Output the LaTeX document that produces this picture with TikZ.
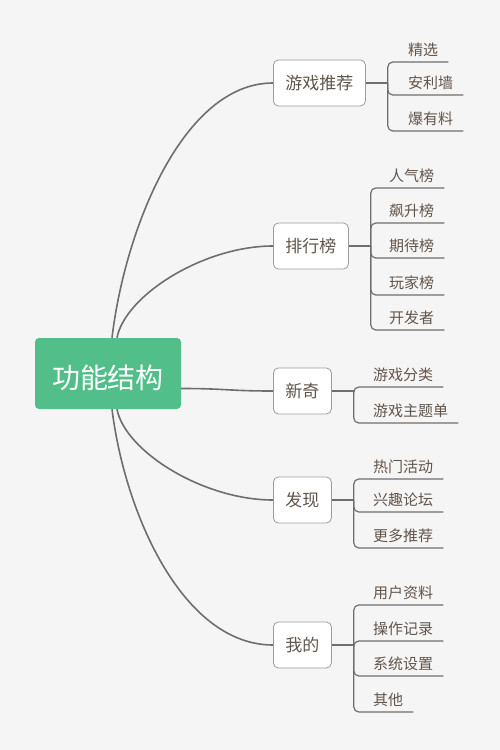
\documentclass[tikz,border=0pt]{standalone}
\usepackage{fontspec}
\setmainfont{Noto Sans CJK SC}
\usepackage{xcolor}
\usetikzlibrary{positioning}

\definecolor{rootgreen}{HTML}{52BE89}
\definecolor{linegray}{HTML}{6E6E6E}
\definecolor{boxgray}{HTML}{9C9C9C}
\definecolor{textbrown}{HTML}{62554B}
\definecolor{paper}{HTML}{F5F5F5}

\tikzset{
  root/.style={fill=rootgreen, rounded corners=4pt, text=white,
    font=\fontsize{28}{32}\selectfont, text height=30pt, text depth=0pt,
    minimum width=146pt, minimum height=71pt},
  topic/.style={draw=boxgray, fill=white, rounded corners=5pt, line width=0.8pt,
    text=textbrown, font=\fontsize{17}{20}\selectfont, inner xsep=12pt,
    minimum height=46pt, anchor=west},
  leaf/.style={anchor=south west, inner xsep=10pt, inner ysep=6pt, text depth=0pt,
    text=textbrown, font=\fontsize{15}{18}\selectfont},
  branch/.style={draw=linegray, line width=1.6pt},
  twig/.style={draw=linegray, line width=1.2pt, rounded corners=5pt}
}

\begin{document}
\begin{tikzpicture}[x=1pt, y=-1pt]
\fill[paper] (0,0) rectangle (500,750);
\useasboundingbox (0,0) rectangle (500,750);

% centre
\node[root] (root) at (108,373.5) {功能结构};

% main topics
\node[topic] (t1) at (273,83) {游戏推荐};
\node[topic] (t2) at (273,246) {排行榜};
\node[topic] (t3) at (273,391) {新奇};
\node[topic] (t4) at (273,500) {发现};
\node[topic] (t5) at (273,645) {我的};

% curves from the centre
\draw[branch] ([xshift=4pt]root.north) .. controls +(13,-109) and +(-90,0) .. (t1.west);
\draw[branch] ([xshift=9pt]root.north) .. controls +(8,-42) and +(-70,0) .. (t2.west);
\draw[branch] ([yshift=-15pt]root.east) .. controls +(45,0) and +(-45,0) .. (t3.west);
\draw[branch] ([xshift=9pt]root.south) .. controls +(8,42) and +(-70,0) .. (t4.west);
\draw[branch] ([xshift=4pt]root.south) .. controls +(13,105) and +(-90,0) .. (t5.west);

% junctions
\foreach \t in {1,...,5} {
    \coordinate[right=22pt of t\t] (j\t);
    \draw[branch, line width=1.2pt] (t\t.east) -- (j\t);
}

% sub topics
\foreach \name/\uy [count=\i] in {精选/62, 安利墙/95, 爆有料/131} {
    \node[leaf] (a\i) at (398,\uy) {\name};
    \draw[twig] (j1) |- (a\i.south east);
}
\foreach \name/\uy [count=\i] in {人气榜/188, 飙升榜/223, 期待榜/258, 玩家榜/295, 开发者/330} {
    \node[leaf] (b\i) at (379,\uy) {\name};
    \draw[twig] (j2) |- (b\i.south east);
}
\foreach \name/\uy [count=\i] in {游戏分类/387, 游戏主题单/423} {
    \node[leaf] (c\i) at (363,\uy) {\name};
    \draw[twig] (j3) |- (c\i.south east);
}
\foreach \name/\uy [count=\i] in {热门活动/479, 兴趣论坛/512, 更多推荐/548} {
    \node[leaf] (d\i) at (363,\uy) {\name};
    \draw[twig] (j4) |- (d\i.south east);
}
\foreach \name/\uy [count=\i] in {用户资料/605, 操作记录/641, 系统设置/676, 其他/712} {
    \node[leaf] (e\i) at (363,\uy) {\name};
    \draw[twig] (j5) |- (e\i.south east);
}
\end{tikzpicture}
\end{document}
